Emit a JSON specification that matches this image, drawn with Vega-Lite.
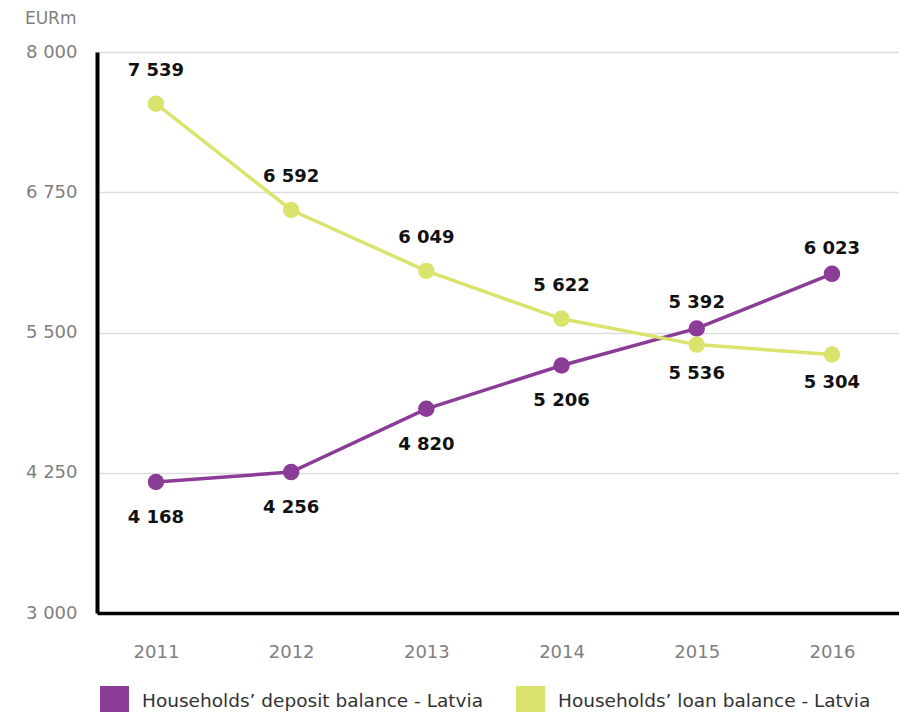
{
  "$schema": "https://vega.github.io/schema/vega-lite/v6.json",
  "autosize": {"type": "none"},
  "padding": {"left": 97, "top": 52, "right": 0, "bottom": 99},
  "width": 802,
  "height": 561,
  "background": "white",
  "config": {
    "view": {"stroke": null},
    "font": "DejaVu Sans"
  },
  "data": {
    "values": [
      {"year": 2011, "series": "Households’ deposit balance - Latvia", "value": 4168, "label": "4 168"},
      {"year": 2012, "series": "Households’ deposit balance - Latvia", "value": 4256, "label": "4 256"},
      {"year": 2013, "series": "Households’ deposit balance - Latvia", "value": 4820, "label": "4 820"},
      {"year": 2014, "series": "Households’ deposit balance - Latvia", "value": 5206, "label": "5 206"},
      {"year": 2015, "series": "Households’ deposit balance - Latvia", "value": 5536, "label": "5 392"},
      {"year": 2016, "series": "Households’ deposit balance - Latvia", "value": 6023, "label": "6 023"},
      {"year": 2011, "series": "Households’ loan balance - Latvia", "value": 7539, "label": "7 539"},
      {"year": 2012, "series": "Households’ loan balance - Latvia", "value": 6592, "label": "6 592"},
      {"year": 2013, "series": "Households’ loan balance - Latvia", "value": 6049, "label": "6 049"},
      {"year": 2014, "series": "Households’ loan balance - Latvia", "value": 5622, "label": "5 622"},
      {"year": 2015, "series": "Households’ loan balance - Latvia", "value": 5392, "label": "5 536"},
      {"year": 2016, "series": "Households’ loan balance - Latvia", "value": 5304, "label": "5 304"}
    ]
  },
  "encoding": {
    "x": {
      "field": "year", "type": "quantitative",
      "scale": {"domain": [2010.564, 2016.496], "nice": false, "zero": false},
      "axis": {
        "values": [2011, 2012, 2013, 2014, 2015, 2016],
        "format": "d",
        "title": null,
        "grid": false,
        "ticks": false,
        "domainColor": "#000000",
        "domainWidth": 3.5,
        "labelColor": "#808080",
        "labelFontSize": 18,
        "labelPadding": 30,
        "labelFont": "DejaVu Sans"
      }
    },
    "y": {
      "field": "value", "type": "quantitative",
      "scale": {"domain": [3000, 8000], "nice": false, "zero": false},
      "axis": {
        "values": [3000, 4250, 5500, 6750, 8000],
        "labelExpr": "replace(format(datum.value, ','), ',', ' ')",
        "title": "EURm",
        "titleAngle": 0,
        "titleX": -21,
        "titleY": -34,
        "titleAlign": "right",
        "titleBaseline": "middle",
        "titleColor": "#808080",
        "titleFontSize": 17,
        "titleFontWeight": "normal",
        "titleFont": "DejaVu Sans",
        "grid": true,
        "gridColor": "#dddddd",
        "gridWidth": 1.5,
        "ticks": false,
        "domainColor": "#000000",
        "domainWidth": 4,
        "labelColor": "#808080",
        "labelFontSize": 18,
        "labelPadding": 20,
        "labelFont": "DejaVu Sans"
      }
    },
    "color": {
      "field": "series", "type": "nominal",
      "scale": {"domain": ["Households’ deposit balance - Latvia", "Households’ loan balance - Latvia"], "range": ["#8B3C96", "#DAE36C"]},
      "legend": {
        "title": null,
        "orient": "none",
        "direction": "horizontal",
        "legendX": 3,
        "legendY": 634,
        "symbolType": "square",
        "symbolSize": 840,
        "symbolStrokeWidth": 0,
        "labelFontSize": 18.5,
        "labelLimit": 1000,
        "labelColor": "#333333",
        "labelFont": "DejaVu Sans",
        "labelOffset": 13,
        "columnPadding": 33,
        "padding": 0,
        "encode": {
          "symbols": {
            "update": {
              "fill": {"scale": "color", "field": "value"},
              "strokeWidth": {"value": 0},
              "opacity": {"value": 1}
            }
          }
        }
      }
    }
  },
  "layer": [
    {
      "mark": {"type": "line", "strokeWidth": 3.5}
    },
    {
      "mark": {"type": "point", "filled": true, "opacity": 1, "size": 270}
    },
    {
      "transform": [{"filter": "indexof(datum.series, 'loan') >= 0 && datum.year <= 2014"}],
      "mark": {"type": "text", "dy": -33, "fontSize": 18, "fontWeight": "bold", "color": "#111111", "font": "DejaVu Sans", "baseline": "middle"},
      "encoding": {"text": {"field": "label"}, "color": {"value": "#111111"}}
    },
    {
      "transform": [{"filter": "indexof(datum.series, 'deposit') >= 0 && datum.year <= 2014"}],
      "mark": {"type": "text", "dy": 36, "fontSize": 18, "fontWeight": "bold", "color": "#111111", "font": "DejaVu Sans", "baseline": "middle"},
      "encoding": {"text": {"field": "label"}, "color": {"value": "#111111"}}
    },
    {
      "transform": [{"filter": "indexof(datum.series, 'deposit') >= 0 && datum.year >= 2015"}],
      "mark": {"type": "text", "dy": -25, "fontSize": 18, "fontWeight": "bold", "color": "#111111", "font": "DejaVu Sans", "baseline": "middle"},
      "encoding": {"text": {"field": "label"}, "color": {"value": "#111111"}}
    },
    {
      "transform": [{"filter": "indexof(datum.series, 'loan') >= 0 && datum.year >= 2015"}],
      "mark": {"type": "text", "dy": 29, "fontSize": 18, "fontWeight": "bold", "color": "#111111", "font": "DejaVu Sans", "baseline": "middle"},
      "encoding": {"text": {"field": "label"}, "color": {"value": "#111111"}}
    }
  ]
}
